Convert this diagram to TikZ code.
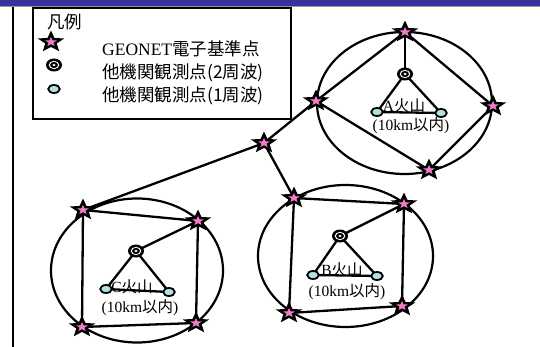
\documentclass[tikz,border=0pt]{standalone}
\usepackage{fontspec}
\setmainfont{Liberation Serif}
\newfontfamily\cjk{Noto Sans CJK JP}
\definecolor{barblue}{RGB}{51,51,153}
\definecolor{bargray}{RGB}{150,150,150}
\definecolor{pinkS}{RGB}{240,125,200}
\definecolor{lcyan}{RGB}{178,224,224}
\tikzset{
  x=1pt, y=1pt,
  link/.style={line width=2.3pt, black},
  ring/.style={line width=2.2pt, black},
  gstar/.pic={
    \fill[black, yscale=0.82] (90:14) -- (126:6) -- (162:14) -- (198:6) -- (234:14) -- (270:6) -- (306:14) -- (342:6) -- (18:14) -- (54:6) -- cycle;
    \fill[pinkS, yscale=0.82] (90:6) -- (126:2.6) -- (162:6) -- (198:2.6) -- (234:6) -- (270:2.6) -- (306:6) -- (342:2.6) -- (18:6) -- (54:2.6) -- cycle;
  },
  dcirc/.pic={
    \fill[black] (0,0) ellipse (8 and 6.5);
    \fill[white] (0,0) ellipse (5.3 and 4.1);
    \fill[black] (0,0) ellipse (4 and 3.1);
    \fill[white] (0,0) ellipse (1.7 and 1.2);
  },
  scirc/.pic={
    \filldraw[fill=lcyan, draw=black, line width=1.8pt] (0,0) ellipse (5.8 and 4);
  },
  legtxt/.style={anchor=west, inner sep=0pt, font=\fontsize{17.5}{20}\selectfont},
  voltxt/.style={inner sep=0pt, font=\fontsize{15.5}{17}\selectfont},
}
\begin{document}
\begin{tikzpicture}
\useasboundingbox (0,0) rectangle (540,-347);
\fill[white] (0,0) rectangle (540,-347);
% top bar
\fill[barblue] (0,0) rectangle (540,-6);
\draw[bargray, line width=1.2pt] (0,-6.6) -- (540,-6.6);
% left rule
\coordinate (lt) at (13,-7);
\coordinate (lb) at (13,-347);
\draw[line width=1.5pt] (lt) -- (lb);
% legend box
\node[draw, line width=1.5pt, minimum width=258pt, minimum height=111pt, anchor=north west, inner sep=0pt] (legend) at (32,-7.5) {};
\node[inner sep=0pt, font=\cjk\fontsize{17.5}{20}\selectfont, anchor=west] (lgtitle) at (47,-22) {凡例};
\pic at (51,-42) {gstar};
\pic at (54,-65) {dcirc};
\pic at (54,-89) {scirc};
\node[legtxt] (lg1) at (102,-49) {GEONET{\cjk 電子基準点}};
\node[legtxt, font=\cjk\fontsize{17.5}{20}\selectfont] (lg2) at (102,-73) {他機関観測点(2周波)};
\node[legtxt, font=\cjk\fontsize{17.5}{20}\selectfont] (lg3) at (102,-96) {他機関観測点(1周波)};

% ---------- coordinates ----------
% A
\coordinate (At) at (405,-32);
\coordinate (Al) at (316,-101);
\coordinate (Ar) at (493,-106);
\coordinate (Ab) at (429,-170);
\coordinate (Ad) at (405,-74);
\coordinate (As1) at (377,-112);
\coordinate (As2) at (441,-113);
% middle
\coordinate (M) at (264,-143);
% B
\coordinate (Btl) at (294,-198);
\coordinate (Btr) at (404,-204);
\coordinate (Bbl) at (289,-313);
\coordinate (Bbr) at (402,-306);
\coordinate (Bd) at (340,-236);
\coordinate (Bs1) at (313,-275);
\coordinate (Bs2) at (377,-276);
% C
\coordinate (Ctl) at (83,-210);
\coordinate (Ctr) at (198,-221);
\coordinate (Cbl) at (82,-327);
\coordinate (Cbr) at (196,-323);
\coordinate (Cd) at (136,-251);
\coordinate (Cs1) at (106,-289);
\coordinate (Cs2) at (169,-292);

% ellipses
\draw[ring] (404.5,-103) ellipse (87.5 and 71);
\draw[ring] (345.5,-256) ellipse (87.5 and 71);
\draw[ring] (137,-270.5) ellipse (86 and 72);

% links
\draw[link] (At) -- (Al) -- (Ab) -- (Ar) -- (At);
\draw[link] (At) -- (Ad);
\draw[link] (Ad) -- (As1) -- (As2) -- (Ad);
\draw[link] (Al) -- (M) -- (Btl);
\draw[link] (M) -- (Ctl);
\draw[link] (Btl) -- (Btr) -- (Bbr) -- (Bbl) -- (Btl);
\draw[link] (Bd) -- (Btr);
\draw[link] (Bd) -- (Bs1) -- (Bs2) -- (Bd);
\draw[link] (Ctl) -- (Ctr) -- (Cbr) -- (Cbl) -- (Ctl);
\draw[link] (Cd) -- (Ctr);
\draw[link] (Cd) -- (Cs1) -- (Cs2) -- (Cd);

% texts
\node[voltxt] (Alab) at (404,-106) {A{\cjk 火山}};
\node[voltxt] (Arng) at (411,-126) {(10km{\cjk 以内})};
\node[voltxt] (Blab) at (342,-270) {B{\cjk 火山}};
\node[voltxt] (Brng) at (347,-291.5) {(10km{\cjk 以内})};
\node[voltxt] (Clab) at (132,-287) {C{\cjk 火山}};
\node[voltxt] (Crng) at (140,-308) {(10km{\cjk 以内})};

% symbols
\foreach \p in {At,Al,Ar,Ab,M,Btl,Btr,Bbl,Bbr,Ctl,Ctr,Cbl,Cbr}
  \pic at (\p) {gstar};
\foreach \p in {Ad,Bd,Cd}
  \pic at (\p) {dcirc};
\foreach \p in {As1,As2,Bs1,Bs2,Cs1,Cs2}
  \pic at (\p) {scirc};
\end{tikzpicture}
\end{document}
